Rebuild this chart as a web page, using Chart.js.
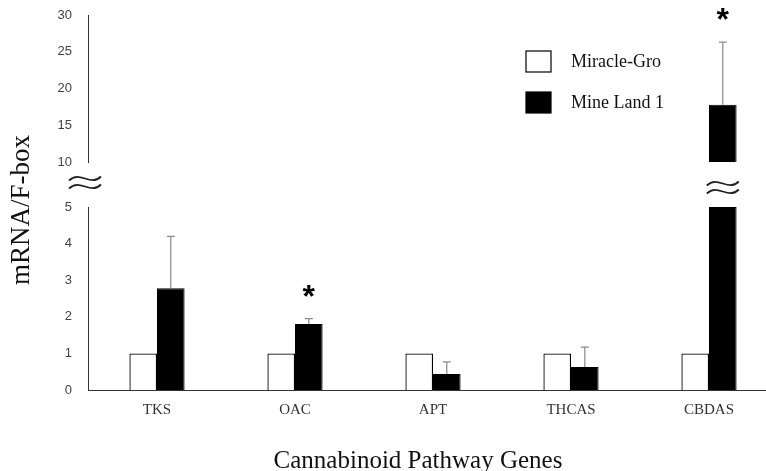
<!DOCTYPE html>
<html>
<head>
<meta charset="utf-8">
<script src="https://cdn.jsdelivr.net/npm/chart.js@4"></script>
<style>
  html, body { margin: 0; padding: 0; background: #fff; overflow: hidden; }
  #wrap { position: relative; width: 766px; height: 471px; overflow: hidden; }
  canvas { display: block; }
</style>
</head>
<body>
<div id="wrap"><canvas id="chart" width="778" height="471"></canvas></div>
<script>
// data
const genes = ['TKS', 'OAC', 'APT', 'THCAS', 'CBDAS'];
const miracleGro = [1, 1, 1, 1, 1];
const mineLand = [2.78, 1.8, 0.44, 0.63, 17.8];
const mineLandErr = [1.42, 0.15, 0.33, 0.54, 8.5];
const significant = [false, true, false, false, true];
const lowTicks = [0, 1, 2, 3, 4, 5];
const highTicks = [10, 15, 20, 25, 30];
const seriesNames = ['Miracle-Gro', 'Mine Land 1'];
const yTitle = 'mRNA/F-box';
const xTitle = 'Cannabinoid Pathway Genes';

const lowMax = lowTicks[lowTicks.length - 1];
const highMin = highTicks[0];
const serif = '"Liberation Serif", "Times New Roman", serif';

// wavy "≈" break sign
function breakMark(ctx, cx, cy, w) {
    ctx.save();
    ctx.strokeStyle = '#222';
    ctx.lineWidth = 1.8;
    [-4, 4].forEach(dy => {
        const x0 = cx - w / 2, y = cy + dy;
        ctx.beginPath();
        ctx.moveTo(x0, y + 2);
        ctx.bezierCurveTo(x0 + w * 0.35, y - 9, x0 + w * 0.65, y + 9, x0 + w, y - 2);
        ctx.stroke();
    });
    ctx.restore();
}

const extras = {
    id: 'extras',
    afterDatasetsDraw(chart) {
        const ctx = chart.ctx;
        const yLow = chart.scales.y, yTop = chart.scales.yTop;
        const lowMeta = chart.getDatasetMeta(1), topMeta = chart.getDatasetMeta(2);
        ctx.save();
        mineLand.forEach((v, i) => {
            const hi = v + mineLandErr[i];
            const onTop = v > lowMax;
            const scale = onTop ? yTop : yLow;
            const x = (onTop ? topMeta : lowMeta).data[i].x;
            const y0 = scale.getPixelForValue(v), y1 = scale.getPixelForValue(hi);
            ctx.strokeStyle = '#8a8a8a';
            ctx.lineWidth = 1.2;
            ctx.beginPath();
            ctx.moveTo(x, y0); ctx.lineTo(x, y1);
            ctx.moveTo(x - 4, y1); ctx.lineTo(x + 4, y1);
            ctx.stroke();
            if (significant[i]) {
                ctx.fillStyle = '#000';
                ctx.font = 'bold 32px "Liberation Sans", sans-serif';
                ctx.textAlign = 'center';
                ctx.textBaseline = 'alphabetic';
                ctx.fillText('*', x, y1 - 12);
            }
        });
        ctx.restore();
    },
    afterDraw(chart) {
        const ctx = chart.ctx;
        const gap = chart.scales.yGap;
        const area = chart.chartArea;
        const midY = (gap.top + gap.bottom) / 2;
        // break marks on the axis and on the tall bar
        breakMark(ctx, area.left - 3, midY - 2, 32);
        mineLand.forEach((v, i) => {
            if (v > lowMax) breakMark(ctx, chart.getDatasetMeta(1).data[i].x, midY + 3, 32);
        });

        ctx.save();
        // legend
        const ds = chart.data.datasets;
        [0, 1].forEach(k => {
            const top = 51 + k * 41;
            ctx.fillStyle = ds[k].backgroundColor;
            ctx.strokeStyle = '#000';
            ctx.lineWidth = 1.2;
            ctx.fillRect(526, top, 25, 21);
            ctx.strokeRect(526, top, 25, 21);
            ctx.fillStyle = '#111';
            ctx.font = '18px ' + serif;
            ctx.textAlign = 'left';
            ctx.textBaseline = 'middle';
            ctx.fillText(ds[k].label, 571, top + 11);
        });
        // axis titles
        ctx.fillStyle = '#111';
        ctx.textAlign = 'center';
        ctx.textBaseline = 'middle';
        ctx.font = '25px ' + serif;
        ctx.fillText(xTitle, 418, 461);
        ctx.translate(22, 210);
        ctx.rotate(-Math.PI / 2);
        ctx.font = '27px ' + serif;
        ctx.fillText(yTitle, 0, 0);
        ctx.restore();
    }
};

const yTickFont = { family: '"Liberation Sans", sans-serif', size: 13 };
const fixWidth = s => {
    s.width = 88;
    s.paddingTop = 0;
    s.paddingBottom = 0;
};

new Chart(document.getElementById('chart'), {
    type: 'bar',
    data: {
        labels: genes,
        datasets: [
            {
                label: seriesNames[0],
                data: miracleGro,
                yAxisID: 'y',
                stack: 'mg',
                backgroundColor: '#ffffff',
                borderColor: '#000',
                borderWidth: 1.3
            },
            {
                label: seriesNames[1],
                data: mineLand.map(v => Math.min(v, lowMax)),
                yAxisID: 'y',
                stack: 'ml',
                backgroundColor: '#000000',
                borderColor: '#000',
                borderWidth: 1
            },
            {
                label: seriesNames[1],
                data: mineLand.map(v => v > highMin ? [highMin, v] : null),
                yAxisID: 'yTop',
                stack: 'ml',
                backgroundColor: '#000000',
                borderColor: '#000',
                borderWidth: 1
            }
        ]
    },
    options: {
        responsive: false,
        animation: false,
        categoryPercentage: 0.4,
        barPercentage: 1.0,
        layout: { padding: { top: 15, left: 0, right: 0, bottom: 0 } },
        plugins: {
            legend: { display: false },
            tooltip: { enabled: false }
        },
        scales: {
            x: {
                stacked: true,
                grid: { display: false, drawTicks: false },
                border: { color: '#333', width: 1 },
                ticks: { color: '#333', padding: 11, font: { family: serif, size: 15 } },
                afterFit: s => { s.height = 81; s.paddingLeft = 0; s.paddingRight = 0; }
            },
            y: {
                position: 'left',
                stack: 'v',
                stackWeight: 183,
                stacked: false,
                min: lowTicks[0],
                max: lowMax,
                grid: { display: false, drawTicks: false },
                border: { color: '#333', width: 1 },
                ticks: { stepSize: 1, color: '#444', padding: 16, font: yTickFont },
                afterFit: fixWidth
            },
            yGap: {
                position: 'left',
                stack: 'v',
                stackWeight: 45,
                min: 0,
                max: 1,
                grid: { display: false, drawTicks: false },
                border: { display: false },
                ticks: { display: false },
                afterFit: fixWidth
            },
            yTop: {
                position: 'left',
                stack: 'v',
                stackWeight: 147,
                stacked: false,
                min: highMin,
                max: highTicks[highTicks.length - 1],
                grid: { display: false, drawTicks: false },
                border: { color: '#333', width: 1 },
                ticks: { stepSize: 5, color: '#444', padding: 16, font: yTickFont },
                afterFit: fixWidth
            }
        }
    },
    plugins: [extras]
});
</script>
</body>
</html>
